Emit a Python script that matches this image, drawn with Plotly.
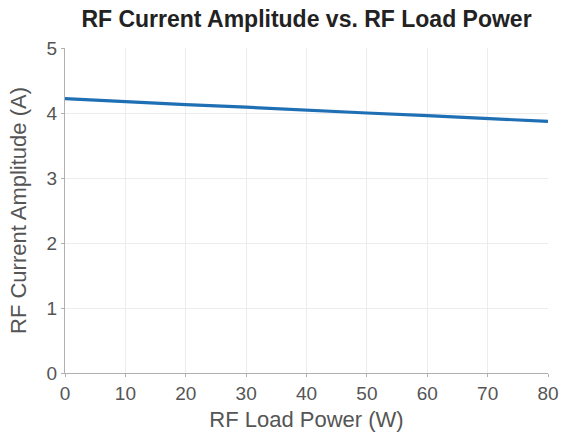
import plotly.graph_objects as go

power_w = [0, 10, 20, 30, 40, 50, 60, 70, 80]
current_a = [4.22, 4.17, 4.13, 4.09, 4.04, 4.00, 3.96, 3.92, 3.87]

fig = go.Figure()
fig.add_trace(go.Scatter(x=power_w, y=current_a, mode="lines",
                         line=dict(color="#1f6fb5", width=3.2), showlegend=False))

axis_common = dict(showgrid=True, gridcolor="#ececec", gridwidth=1,
                   showline=True, linecolor="#b0b0b0", linewidth=1,
                   ticks="outside", ticklen=3, tickcolor="#b0b0b0",
                   zeroline=False, tickfont=dict(size=19, color="#555555"),
                   mirror=False, automargin=False)

fig.update_layout(
    width=562, height=436,
    margin=dict(l=65, r=14, t=48, b=63),
    paper_bgcolor="white", plot_bgcolor="white",
    font=dict(family="Liberation Sans, Arial, sans-serif", color="#555555"),
    title=dict(text="<b>RF Current Amplitude vs. RF Load Power</b>",
               x=0.5, xref="paper", y=0.957, yref="container", yanchor="middle",
               font=dict(size=23, color="#222222")),
    xaxis=dict(range=[0, 80], dtick=10,
               title=dict(text="RF Load Power (W)", font=dict(size=22, color="#555555"), standoff=8),
               **axis_common),
    yaxis=dict(range=[0, 5], dtick=1,
               title=dict(text="RF Current Amplitude (A)", font=dict(size=22, color="#555555"), standoff=13),
               **axis_common),
)

fig.write_html("out.html")
